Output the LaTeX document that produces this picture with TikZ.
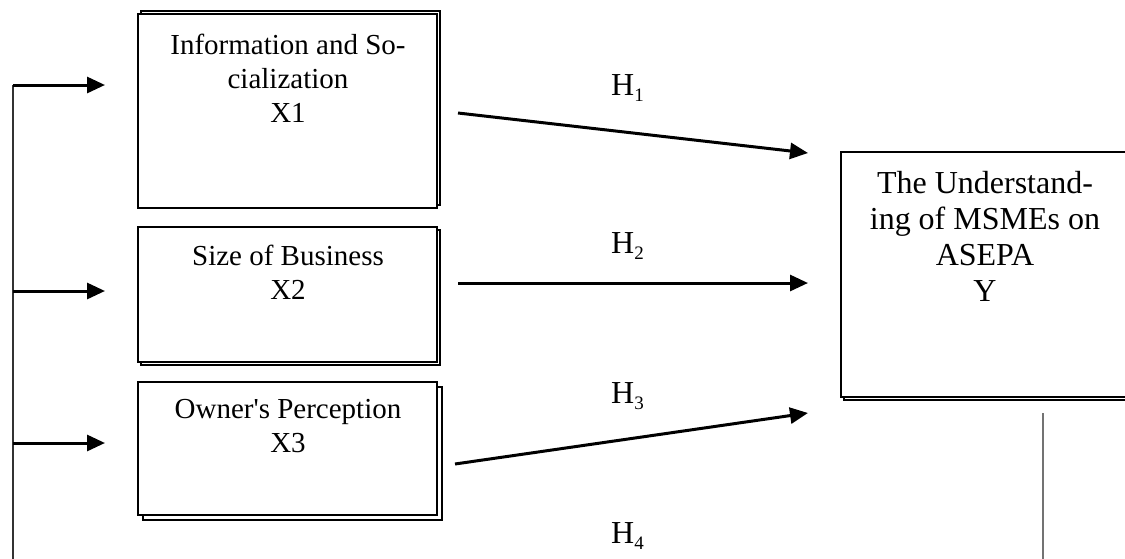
\documentclass[tikz,border=0pt]{standalone}
\usepackage{fontspec}
\setmainfont{Liberation Serif}
\usetikzlibrary{arrows.meta,shadows}
\begin{document}
\begin{tikzpicture}[x=1pt,y=-1pt,
  box/.style={draw=black, line width=2pt, fill=white, inner sep=0pt},
  shd/.style 2 args={general shadow={draw=black, line width=2pt, fill=white, shadow xshift=#1, shadow yshift=#2}},
  lbl/.style={inner sep=0pt, align=center, font=\fontsize{29}{34}\selectfont},
  ylbl/.style={inner sep=0pt, align=center, font=\fontsize{32}{36}\selectfont},
  hlbl/.style={inner sep=0pt, anchor=base west, font=\fontsize{32}{36}\selectfont},
  arr/.style={line width=3pt, -{Triangle[length=18pt,width=16pt]}},
  busline/.style={line width=2.4pt, draw=black!80},
  outline/.style={line width=2.4pt, draw=black!55}]
\useasboundingbox (0,0) rectangle (1125,558);
\clip (0,0) rectangle (1125,558);
% boxes
\node[box, shd={2.5pt}{3pt}, minimum width=299pt, minimum height=194pt] (x1) at (287.5,111) {};
\node[box, shd={2.5pt}{-2.5pt}, minimum width=299pt, minimum height=135pt] (x2) at (287.5,294.5) {};
\node[box, shd={5pt}{-4.5pt}, minimum width=299pt, minimum height=133pt] (x3) at (287.5,448.5) {};
\node[box, shd={2.5pt}{-2.5pt}, minimum width=289pt, minimum height=245pt] (y) at (985.5,274.5) {};
% box texts
\node[lbl, anchor=north] (x1t) at (288,34) {Information and So-\\cialization\\X1};
\node[lbl, anchor=north] (x2t) at (288,245) {Size of Business\\X2};
\node[lbl, anchor=north] (x3t) at (288,399) {Owner\textquotesingle s Perception\\X3};
\node[ylbl, anchor=north] (yt) at (985,171) {The Understand-\\ing of MSMEs on\\ASEPA\\Y};
% hypothesis labels
\newcommand{\hsub}[1]{\raisebox{-6pt}{\fontsize{19}{19}\selectfont #1}}
\node[hlbl] (h1) at (611,95) {H\hsub{1}};
\node[hlbl] (h2) at (611,253) {H\hsub{2}};
\node[hlbl] (h3) at (611,403) {H\hsub{3}};
\node[hlbl] (h4) at (611,543) {H\hsub{4}};
% connector end points
\coordinate (bt) at (13,85);
\coordinate (bb) at (13,560);
\coordinate (b2) at (13,291);
\coordinate (b3) at (13,443);
\coordinate (e1) at (105,85);
\coordinate (e2) at (105,291);
\coordinate (e3) at (105,443);
\coordinate (s1) at (458,113);
\coordinate (t1) at (808,153);
\coordinate (s2) at (458,283);
\coordinate (t2) at (808,283);
\coordinate (s3) at (455,464);
\coordinate (t3) at (808,413);
\coordinate (ys) at (1043,413);
\coordinate (ye) at (1043,560);
% feedback bus
\draw[busline] (bb) -- (bt);
\draw[arr] (bt) -- (e1);
\draw[arr] (b2) -- (e2);
\draw[arr] (b3) -- (e3);
% hypothesis arrows
\draw[arr] (s1) -- (t1);
\draw[arr] (s2) -- (t2);
\draw[arr] (s3) -- (t3);
\draw[outline] (ys) -- (ye);
\end{tikzpicture}
\end{document}
